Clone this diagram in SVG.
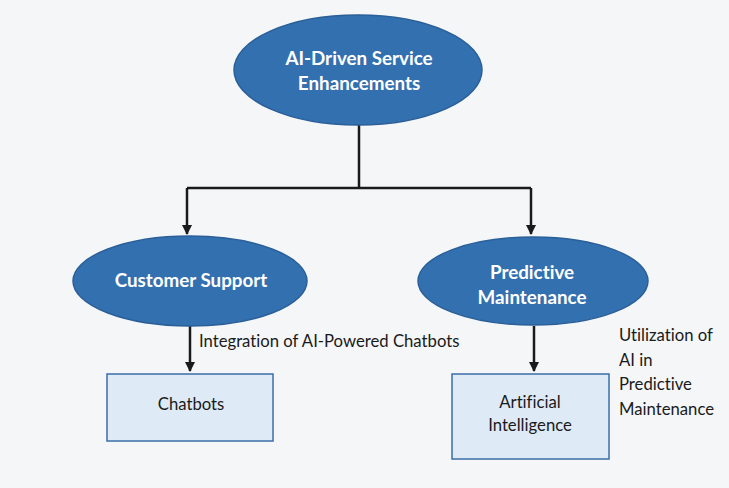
<svg xmlns="http://www.w3.org/2000/svg" width="729" height="488" viewBox="0 0 729 488">
<defs>
<marker id="ah" markerWidth="11" markerHeight="11" refX="9" refY="5.5" orient="auto" markerUnits="userSpaceOnUse" viewBox="0 0 11 11">
<path d="M0,0.5 L10,5.5 L0,10.5 Z" fill="#1a1a1a"/>
</marker>
<style>
text{font-variant-ligatures:none}
.ell{fill:#3370b0;stroke:#2a5f98;stroke-width:1.5}
.box{fill:#deebf7;stroke:#3a6ea8;stroke-width:1.5}
.et{font-family:Lato,"Open Sans",sans-serif;font-weight:bold;font-size:18.8px;fill:#ffffff;text-anchor:middle}
.bt{font-family:Lato,"Open Sans",sans-serif;font-size:16.7px;fill:#1a1a1a;text-anchor:middle}
.lt{font-family:Lato,"Open Sans",sans-serif;font-size:16.7px;fill:#1a1a1a}
.ln{fill:none;stroke:#1a1a1a;stroke-width:2.5}
</style>
</defs>
<rect x="0" y="0" width="729" height="488" fill="#f4f6f8"/>
<g id="connectors">
<path class="ln" d="M359,125 V188"/>
<path class="ln" d="M187,188 H531"/>
<path class="ln" d="M187,188 V234" marker-end="url(#ah)"/>
<path class="ln" d="M531,188 V234" marker-end="url(#ah)"/>
<path class="ln" d="M190,326 V371" marker-end="url(#ah)"/>
<path class="ln" d="M534,326 V371" marker-end="url(#ah)"/>
<text class="lt" x="199" y="347">Integration of AI-Powered Chatbots</text>
<text class="lt" x="619" y="341">Utilization of</text>
<text class="lt" x="619" y="366">AI in</text>
<text class="lt" x="619" y="390">Predictive</text>
<text class="lt" x="619" y="415">Maintenance</text>
</g>
<g id="root">
<ellipse class="ell" cx="358" cy="70" rx="124" ry="55"/>
<text class="et" x="359" y="65">AI-Driven Service</text>
<text class="et" x="359" y="90">Enhancements</text>
</g>
<g id="customer-support">
<ellipse class="ell" cx="190" cy="281" rx="117" ry="45"/>
<text class="et" x="191" y="287">Customer Support</text>
</g>
<g id="predictive-maintenance">
<ellipse class="ell" cx="533" cy="281" rx="115" ry="44"/>
<text class="et" x="532" y="279">Predictive</text>
<text class="et" x="532" y="304">Maintenance</text>
</g>
<g id="chatbots">
<rect class="box" x="107" y="374" width="166" height="67"/>
<text class="bt" x="191" y="410">Chatbots</text>
</g>
<g id="artificial-intelligence">
<rect class="box" x="452" y="374" width="157" height="85"/>
<text class="bt" x="530" y="408">Artificial</text>
<text class="bt" x="530" y="431">Intelligence</text>
</g>
</svg>
